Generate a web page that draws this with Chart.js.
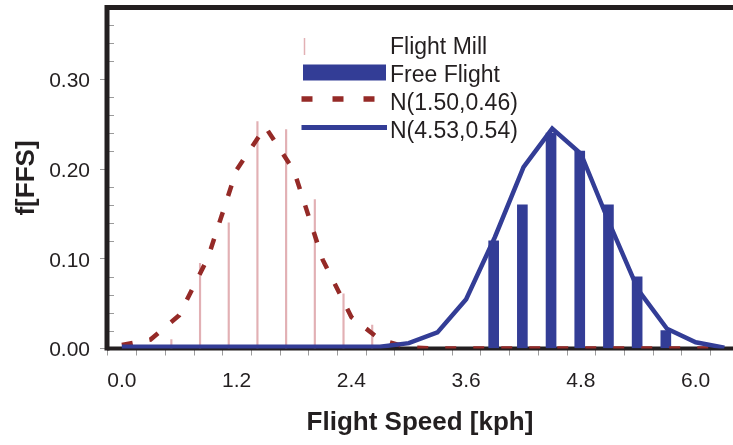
<!DOCTYPE html>
<html>
<head>
<meta charset="utf-8">
<title>Flight speed distribution</title>
<script src="https://cdn.jsdelivr.net/npm/chart.js@4.4.0/dist/chart.umd.min.js"></script>
<style>
  html, body { margin: 0; padding: 0; background: #fff; }
</style>
</head>
<body>
<canvas id="speedChart" width="733" height="445"></canvas>
<script>
// speed bins (kph) used for the two fitted normal curves
const speeds = [0.0, 0.3, 0.6, 0.9, 1.2, 1.5, 1.8, 2.1, 2.4, 2.7, 3.0,
                3.3, 3.6, 3.9, 4.2, 4.5, 4.8, 5.1, 5.4, 5.7, 6.0, 6.3];
const millFit = [0.004, 0.010, 0.037, 0.101, 0.199, 0.247, 0.198, 0.099, 0.035, 0.010, 0.001,
                 0, 0, 0, 0, 0, 0, 0, 0, 0, 0, 0];
const freeFit = [0.002, 0.002, 0.002, 0.002, 0.002, 0.002, 0.002, 0.002, 0.002, 0.002, 0.006,
                 0.018, 0.055, 0.124, 0.202, 0.245, 0.217, 0.139, 0.065, 0.022, 0.007, 0.001];

// observed frequencies
const millSpeeds = [0.51, 0.81, 1.11, 1.41, 1.71, 2.01, 2.31, 2.61];
const millFreq = [0.010, 0.095, 0.140, 0.253, 0.244, 0.166, 0.061, 0.026];
const freeSpeeds = [3.94, 4.24, 4.54, 4.84, 5.14, 5.44, 5.74];
const freeFreq = [0.12, 0.16, 0.24, 0.22, 0.16, 0.08, 0.02];

const xTickLabels = [0.0, 1.2, 2.4, 3.6, 4.8, 6.0];
const yTickLabels = [0.00, 0.10, 0.20, 0.30];

const BLUE = '#333d96';
const RED = '#952a27';
const PINK = '#e2b0b4';
const INK = '#231f20';
const TICK = '#9b9b9b';
const FONT = "'Liberation Sans', Arial, Helvetica, sans-serif";

const toPoints = (xs, ys) => xs.map((x, i) => ({ x: x, y: ys[i] }));

// axis lines, the frame on top and the little tick marks
const axisFrame = {
  id: 'axisFrame',
  beforeDatasetsDraw(chart) {
    const { ctx, chartArea: a, scales: { x, y } } = chart;
    ctx.save();
    ctx.strokeStyle = TICK;
    ctx.lineWidth = 1;
    ctx.beginPath();
    // minor y ticks point inwards
    for (let k = 1; k < 19; k++) {
      if (k % 5 === 0) continue;
      const py = Math.round(y.getPixelForValue(k * 0.02)) + 0.5;
      ctx.moveTo(a.left + 2, py);
      ctx.lineTo(a.left + 7, py);
    }
    // x ticks sit on the bin edges
    for (let k = 0; k < 23; k++) {
      const px = Math.round(x.getPixelForValue(-0.15 + 0.3 * k)) + 0.5;
      if (px > a.right) break;
      ctx.moveTo(px, a.bottom + 1);
      ctx.lineTo(px, a.bottom + 7);
    }
    ctx.stroke();

    ctx.strokeStyle = INK;
    ctx.lineWidth = 5;
    ctx.beginPath();
    ctx.moveTo(a.left, a.bottom + 2);
    ctx.lineTo(a.left, a.top - 2.5);
    ctx.moveTo(a.left - 2.5, a.top);
    ctx.lineTo(a.right, a.top);
    ctx.stroke();
    ctx.lineWidth = 4;
    ctx.beginPath();
    ctx.moveTo(a.left, a.bottom);
    ctx.lineTo(a.right, a.bottom);
    ctx.stroke();
    ctx.restore();
  }
};

// legend drawn inside the plot, above the left curve
const innerLegend = {
  id: 'innerLegend',
  afterDraw(chart) {
    const ctx = chart.ctx;
    const ds = chart.data.datasets;
    const textX = 390;
    ctx.save();

    ctx.strokeStyle = PINK;
    ctx.lineWidth = 1.5;
    ctx.beginPath();
    ctx.moveTo(304.5, 38);
    ctx.lineTo(304.5, 55);
    ctx.stroke();

    ctx.fillStyle = BLUE;
    ctx.fillRect(303, 64.5, 83, 16);

    ctx.strokeStyle = RED;
    ctx.lineWidth = 5.5;
    ctx.setLineDash([11, 20]);
    ctx.beginPath();
    ctx.moveTo(301.5, 99);
    ctx.lineTo(388, 99);
    ctx.stroke();
    ctx.setLineDash([]);

    ctx.strokeStyle = BLUE;
    ctx.lineWidth = 5;
    ctx.beginPath();
    ctx.moveTo(301.5, 127.5);
    ctx.lineTo(387, 127.5);
    ctx.stroke();

    ctx.fillStyle = INK;
    ctx.font = '23px ' + FONT;
    ctx.textBaseline = 'middle';
    ctx.textAlign = 'left';
    const rows = [
      [ds[3].label, 48],
      [ds[2].label, 76],
      [ds[1].label, 104],
      [ds[0].label, 132]
    ];
    rows.forEach(([txt, ty]) => ctx.fillText(txt, textX, ty));
    ctx.restore();
  }
};

const ctx = document.getElementById('speedChart').getContext('2d');

new Chart(ctx, {
  type: 'line',
  data: {
    datasets: [
      {
        type: 'line',
        label: 'N(4.53,0.54)',
        data: toPoints(speeds, freeFit),
        borderColor: BLUE,
        borderWidth: 4.5,
        pointRadius: 0,
        tension: 0,
        order: 0
      },
      {
        type: 'line',
        label: 'N(1.50,0.46)',
        data: toPoints(speeds, millFit),
        borderColor: RED,
        borderWidth: 4.5,
        borderDash: [11, 17],
        borderCapStyle: 'butt',
        pointRadius: 0,
        tension: 0,
        order: 1
      },
      {
        type: 'bar',
        label: 'Free Flight',
        data: toPoints(freeSpeeds, freeFreq),
        backgroundColor: BLUE,
        barThickness: 10,
        order: 2
      },
      {
        type: 'bar',
        label: 'Flight Mill',
        data: toPoints(millSpeeds, millFreq),
        backgroundColor: PINK,
        barThickness: 1.5,
        order: 3
      }
    ]
  },
  options: {
    responsive: false,
    animation: false,
    devicePixelRatio: 1,
    layout: { padding: { top: 7.5, right: 0, left: 0, bottom: 0 } },
    plugins: {
      legend: { display: false },
      tooltip: { enabled: false }
    },
    scales: {
      x: {
        type: 'linear',
        position: 'bottom',
        min: -0.155,
        max: 6.39,
        offset: false,
        grid: { display: false, drawTicks: false },
        border: { display: false },
        afterBuildTicks: (s) => { s.ticks = xTickLabels.map(v => ({ value: v })); },
        afterFit: (s) => {
          s.height = 96.5;
          s.paddingLeft = 0;
          s.paddingRight = 0;
        },
        ticks: {
          autoSkip: false,
          maxRotation: 0,
          padding: 20.5,
          color: INK,
          font: { family: FONT, size: 21 },
          callback: (v) => Number(v).toFixed(1)
        },
        title: {
          display: true,
          text: 'Flight Speed [kph]',
          color: INK,
          font: { family: FONT, size: 26, weight: 'bold' },
          padding: { top: 0, bottom: 6.4 }
        }
      },
      y: {
        type: 'linear',
        min: 0,
        max: 0.38,
        grid: {
          display: true,
          drawOnChartArea: false,
          drawTicks: true,
          tickLength: 7,
          color: TICK,
          lineWidth: 1
        },
        border: { display: false },
        afterBuildTicks: (s) => { s.ticks = yTickLabels.map(v => ({ value: v })); },
        afterFit: (s) => {
          s.width = 107;
          s.paddingTop = 0;
          s.paddingBottom = 0;
        },
        ticks: {
          padding: 10,
          labelOffset: 2,
          color: INK,
          font: { family: FONT, size: 21 },
          callback: (v) => Number(v).toFixed(2)
        },
        title: {
          display: true,
          text: 'f[FFS]',
          color: INK,
          font: { family: FONT, size: 26, weight: 'bold' },
          padding: { top: 11, bottom: 0 }
        }
      }
    }
  },
  plugins: [axisFrame, innerLegend]
});
</script>
</body>
</html>
